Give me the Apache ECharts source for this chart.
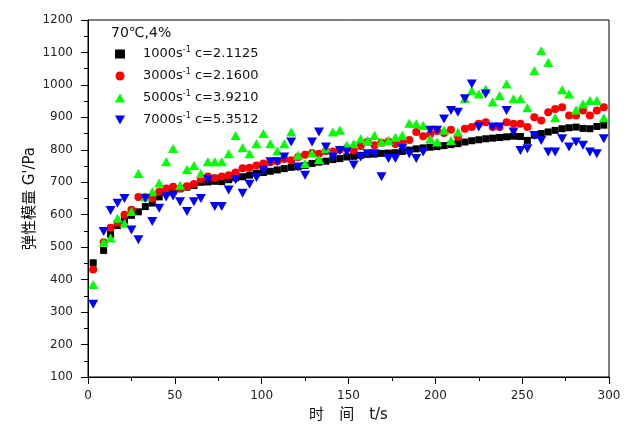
<!DOCTYPE html>
<html>
<head>
<meta charset="utf-8">
<script src="https://cdn.jsdelivr.net/npm/echarts@6/dist/echarts.min.js"></script>
<style>
html,body{margin:0;padding:0;background:#fff;}
#c{width:628px;height:428px;}
</style>
</head>
<body>
<div id="c"></div>
<script>
// time (s)
var times = [3,9,13,17,21,25,29,33,37,41,
  45,49,53,57,61,65,69,73,77,81,
  85,89,93,97,101,105,109,113,117,121,
  125,129,133,137,141,145,149,153,157,161,
  165,169,173,177,181,185,189,193,197,201,
  205,209,213,217,221,225,229,233,237,241,
  245,249,253,257,261,265,269,273,277,281,
  285,289,293,297];

var g1000 = [452,490,540,567,582,598,609,625,636,655,
  670,672,680,685,690,700,701,703,702,708,
  714,717,722,728,730,734,738,742,746,748,
  752,758,762,765,770,773,778,780,783,786,
  787,789,790,791,795,799,803,806,808,810,
  813,816,819,824,828,831,834,836,838,840,
  842,841,829,845,850,855,860,865,868,870,
  866,865,872,876];

var g3000 = [431,515,560,575,600,615,655,655,650,671,
  681,686,681,688,695,710,718,713,718,722,
  730,743,745,752,758,762,765,772,768,778,
  785,790,788,796,795,800,805,798,812,825,
  814,822,826,818,820,830,855,842,848,858,
  852,862,840,865,870,880,885,870,870,885,
  880,880,870,900,890,916,926,931,906,906,
  921,906,921,931];

var g5000 = [385,515,528,589,574,610,727,655,671,698,
  763,804,691,739,752,727,763,763,763,788,
  844,806,788,819,850,819,796,819,855,783,
  758,790,770,804,855,860,814,819,834,829,
  844,824,829,839,845,882,880,875,834,824,
  860,829,855,957,982,972,987,947,967,1003,
  957,957,930,1044,1105,1069,899,985,972,923,
  941,952,952,899];

var g7000 = [324,548,613,635,650,553,523,650,579,620,
  655,658,640,610,640,650,708,625,625,676,
  708,666,694,715,737,763,763,778,824,747,
  722,824,855,809,778,798,793,753,778,788,
  788,717,773,773,804,788,773,793,860,860,
  895,921,916,957,1003,870,972,870,870,921,
  855,798,803,844,829,793,793,834,809,824,
  814,793,788,834];

var seriesNames = ['1000s| c=2.1125', '3000s| c=2.1600', '5000s| c=3.9210', '7000s| c=5.3512'];
var titleText = '70\u2103,4%';
var xTicks = {min: 0, max: 300, interval: 50};
var yTicks = {min: 100, max: 1200, interval: 100};

function pairs(vals) {
  return times.map(function (t, i) { return [t, vals[i]]; });
}

var FONT = "'DejaVu Sans', 'Noto Sans CJK SC', sans-serif";
var chart = echarts.init(document.getElementById('c'), null, {renderer: 'canvas'});

var invTri = 'path://M0,0 L10,0 L5,9 Z';

chart.setOption({
  backgroundColor: '#fff',
  animation: false,
  title: {
    text: titleText,
    left: 106, top: 21,
    textStyle: {fontFamily: FONT, fontSize: 14, fontWeight: 'normal', color: '#111'}
  },
  legend: {
    orient: 'vertical',
    left: 110, top: 41,
    itemWidth: 10, itemHeight: 9,
    itemGap: 6,
    data: seriesNames,
    formatter: function (n) {
      var p = n.split('|');
      return '{pad|}' + p[0] + '{sup|-1}' + p[1];
    },
    textStyle: {
      fontFamily: FONT, fontSize: 13, color: '#111', lineHeight: 16,
      rich: {
        pad: {width: 13, lineHeight: 16},
        sup: {fontFamily: FONT, fontSize: 8, verticalAlign: 'top', lineHeight: 16, color: '#111'}
      }
    }
  },
  grid: {
    left: 88, right: 19, top: 20, bottom: 50,
    show: true, borderColor: '#000', borderWidth: 1
  },
  xAxis: {
    type: 'value',
    min: xTicks.min, max: xTicks.max, interval: xTicks.interval,
    name: '时\u3000间\u3000t/s',
    nameLocation: 'middle', nameGap: 31, nameMoveOverlap: false,
    nameTextStyle: {fontFamily: FONT, fontSize: 15, color: '#111'},
    axisLine: {show: true, lineStyle: {color: '#000', width: 1}},
    axisTick: {show: true, inside: false, length: 7, lineStyle: {color: '#000'}},
    minorTick: {show: true, splitNumber: 2, length: 4, lineStyle: {color: '#000'}},
    splitLine: {show: false},
    axisLabel: {fontFamily: FONT, fontSize: 12, color: '#222', margin: 13,
      formatter: function (v) { return String(v); }}
  },
  yAxis: {
    type: 'value',
    min: yTicks.min, max: yTicks.max, interval: yTicks.interval,
    name: "弹性模量 G'/Pa",
    nameLocation: 'middle', nameGap: 50, nameMoveOverlap: false,
    nameTextStyle: {fontFamily: FONT, fontSize: 15, color: '#111'},
    axisLine: {show: true, lineStyle: {color: '#000', width: 1}},
    axisTick: {show: true, inside: false, length: 7, lineStyle: {color: '#000'}},
    minorTick: {show: true, splitNumber: 2, length: 4, lineStyle: {color: '#000'}},
    splitLine: {show: false},
    axisLabel: {fontFamily: FONT, fontSize: 12, color: '#222', margin: 15,
      formatter: function (v) { return String(v); }}
  },
  series: [
    {name: seriesNames[0], type: 'scatter', data: pairs(g1000), symbol: 'rect', symbolSize: 7,
     itemStyle: {color: '#000000', opacity: 1}},
    {name: seriesNames[1], type: 'scatter', data: pairs(g3000), symbol: 'circle', symbolSize: 8,
     itemStyle: {color: '#ff0000', opacity: 1}},
    {name: seriesNames[2], type: 'scatter', data: pairs(g5000), symbol: 'triangle', symbolSize: [10, 9],
     itemStyle: {color: '#00ff00', opacity: 1}},
    {name: seriesNames[3], type: 'scatter', data: pairs(g7000), symbol: invTri, symbolSize: [10, 9],
     itemStyle: {color: '#0000ff', opacity: 1}}
  ]
});
</script>
</body>
</html>
